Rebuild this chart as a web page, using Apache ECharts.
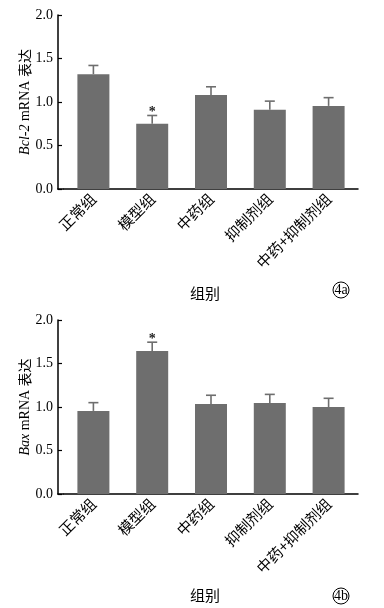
<!DOCTYPE html>
<html><head><meta charset="utf-8">
<script src="https://cdn.jsdelivr.net/npm/echarts@6/dist/echarts.min.js"></script>
<style>html,body{margin:0;padding:0;background:#fff}#c{width:384px;height:608px}</style>
</head><body><div id="c"></div>
<script>
const categories = ['正常组','模型组','中药组','抑制剂组','中药+抑制剂组'];
const bcl2Values = [1.32, 0.75, 1.08, 0.91, 0.955];
const bcl2Errors = [0.10, 0.095, 0.095, 0.10, 0.095];
const bcl2Stars = ['', '*', '', '', ''];
const baxValues = [0.955, 1.645, 1.035, 1.045, 1.00];
const baxErrors = [0.095, 0.10, 0.10, 0.10, 0.10];
const baxStars = ['', '*', '', '', ''];
const yTicks = [0, 0.5, 1.0, 1.5, 2.0];

const BAR = '#6e6e6e';
const serif = '"Liberation Serif","DejaVu Serif",serif';
const cjk = '"Noto Sans CJK SC",sans-serif';

function errSeries(idx, vals, errs, stars){
  return {
    type:'custom', xAxisIndex:idx, yAxisIndex:idx, z:5,
    data: vals.map((v,i)=>[i, v, v+errs[i]]),
    renderItem(params, api){
      const x = api.value(0);
      const p0 = api.coord([x, api.value(1)]);
      const p1 = api.coord([x, api.value(2)]);
      const st = {stroke:BAR, lineWidth:1.6};
      const ch = [
        {type:'line', shape:{x1:p0[0],y1:p0[1],x2:p1[0],y2:p1[1]}, style:st},
        {type:'line', shape:{x1:p1[0]-5,y1:p1[1],x2:p1[0]+5,y2:p1[1]}, style:st}
      ];
      const s = stars[params.dataIndex];
      if (s) ch.push({type:'text', style:{text:s, x:p1[0], y:p1[1]-3, align:'center', verticalAlign:'middle', font:'bold 14px '+serif, fill:'#222'}});
      return {type:'group', children:ch};
    }
  };
}

function xAx(idx){
  return {
    type:'category', gridIndex:idx, data:categories,
    axisLine:{lineStyle:{color:'#000', width:1.5}},
    axisTick:{show:false},
    axisLabel:{rotate:45, margin:7, color:'#000', fontSize:15, fontFamily:cjk, interval:0},
    name:'组别', nameLocation:'middle', nameGap: idx===0?97:94, nameMoveOverlap:false,
    nameTextStyle:{fontFamily:cjk, fontSize:15, color:'#000', padding:[0,12,0,0]}
  };
}
function yAx(idx, nm){
  return {
    type:'value', gridIndex:idx, min:0, max:2, interval:0.5, offset:6,
    axisLine:{show:true, lineStyle:{color:'#000', width:1.5}},
    axisTick:{show:true, inside:true, length:4, lineStyle:{color:'#000', width:1.2}},
    splitLine:{show:false},
    axisLabel:{margin:5, color:'#000', fontSize:14, fontFamily:serif, formatter:v=>yTicks.includes(v)?v.toFixed(1):''},
    name:nm, nameLocation:'middle', nameGap:33, nameMoveOverlap:false,
    nameTextStyle:{color:'#000', fontSize:14, fontFamily:serif, verticalAlign:'middle',
      rich:{i:{fontStyle:'italic', fontSize:14, fontFamily:serif, color:'#000'},
            n:{fontSize:14, fontFamily:serif, color:'#000'},
            c:{fontSize:14, fontFamily:cjk, color:'#000'}}}
  };
}

const chart = echarts.init(document.getElementById('c'), null, {renderer:'canvas'});
chart.setOption({
  animation:false,
  backgroundColor:'#fff',
  grid:[{left:64, right:26, top:15, height:174, outerBoundsMode:'none', containLabel:false},
        {left:64, right:26, top:320, height:174, outerBoundsMode:'none', containLabel:false}],
  xAxis:[xAx(0), xAx(1)],
  yAxis:[yAx(0,'{i|Bcl-2}{n| mRNA }{c|表达}'), yAx(1,'{i|Bax}{n| mRNA }{c|表达}')],
  series:[
    {type:'bar', xAxisIndex:0, yAxisIndex:0, data:bcl2Values, barWidth:32, itemStyle:{color:BAR}},
    {type:'bar', xAxisIndex:1, yAxisIndex:1, data:baxValues, barWidth:32, itemStyle:{color:BAR}},
    errSeries(0, bcl2Values, bcl2Errors, bcl2Stars),
    errSeries(1, baxValues, baxErrors, baxStars)
  ],
  graphic:[
    {type:'line', shape:{x1:57.3,y1:189,x2:64,y2:189}, style:{stroke:'#000', lineWidth:1.5}},
    {type:'line', shape:{x1:57.3,y1:494,x2:64,y2:494}, style:{stroke:'#000', lineWidth:1.5}},
    {type:'circle', shape:{cx:341, cy:290, r:8}, style:{fill:'none', stroke:'#000', lineWidth:1}},
    {type:'text', style:{text:'4a', x:341, y:290, align:'center', verticalAlign:'middle', font:'14px '+serif, fill:'#000'}},
    {type:'circle', shape:{cx:341, cy:596, r:8}, style:{fill:'none', stroke:'#000', lineWidth:1}},
    {type:'text', style:{text:'4b', x:341, y:596, align:'center', verticalAlign:'middle', font:'14px '+serif, fill:'#000'}}
  ]
});
</script></body></html>
